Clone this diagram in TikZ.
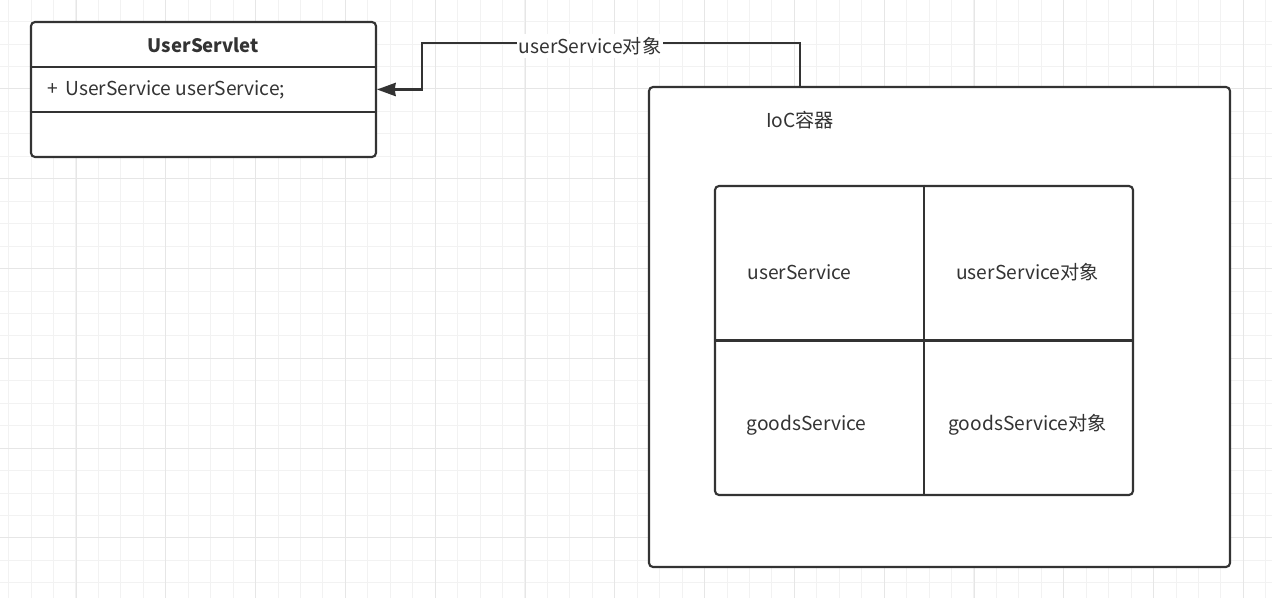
\documentclass[tikz,border=0pt]{standalone}
\usepackage{fontspec}
\setmainfont{Noto Sans CJK SC}
\usetikzlibrary{arrows.meta}
\definecolor{strk}{HTML}{333333}
\definecolor{txt}{HTML}{333333}
\definecolor{gridminor}{HTML}{F2F2F2}
\definecolor{gridmajor}{HTML}{E6E6E6}
\tikzset{
  x=0.75pt, y=-0.75pt,
  box/.style={draw=strk, line width=1.6pt, rounded corners=3pt, fill=white, inner sep=0pt},
  divider/.style={draw=strk, line width=1.6pt},
  txtnode/.style={text=txt, font=\fontsize{14.4pt}{16pt}\selectfont, inner sep=0pt},
  boldtxt/.style={txtnode, font=\fontsize{13.9pt}{16pt}\selectfont\bfseries},
  conn/.style={draw=strk, line width=1.6pt, -{Stealth[length=14pt, width=10pt, inset=0.8pt]}},
  lbl/.style={txtnode, fill=white, inner xsep=1pt, inner ysep=2pt},
}
\begin{document}
\begin{tikzpicture}
\useasboundingbox (0,0) rectangle (1272,598);
\fill[white] (0,0) rectangle (1272,598);
% grid
\foreach \k in {0,...,56} \draw[gridminor, line width=0.75pt] ({8.6+22.45*\k},0) -- ({8.6+22.45*\k},598);
\foreach \k in {1,...,26} \draw[gridminor, line width=0.75pt] (0,{-0.8+22.45*\k}) -- (1272,{-0.8+22.45*\k});
\foreach \k in {0,...,13} \draw[gridmajor, line width=0.75pt] ({76+89.8*\k},0) -- ({76+89.8*\k},598);
\foreach \k in {0,...,5} \draw[gridmajor, line width=0.75pt] (0,{89+89.8*\k}) -- (1272,{89+89.8*\k});

% UserServlet class
\node[box, minimum width={345*0.75pt}, minimum height={135*0.75pt}] (servlet) at (203.5,89.5) {};
\draw[divider] ([yshift={-22.5*0.75pt}]servlet.west) -- ([yshift={-22.5*0.75pt}]servlet.east);
\draw[divider] ([yshift={22.5*0.75pt}]servlet.west) -- ([yshift={22.5*0.75pt}]servlet.east);
\node[boldtxt] (title) at (203.5,45) {UserServlet};
\node[txtnode, anchor=west] (attr) at (47,90) {+ \,UserService userService;};

% IoC container
\node[box, minimum width={581*0.75pt}, minimum height={480*0.75pt}] (ioc) at (939.5,327) {};
\node[txtnode] (ioclabel) at (800,120) {IoC容器};

% table
\node[box, minimum width={418*0.75pt}, minimum height={309*0.75pt}] (table) at (924,340.5) {};
\draw[divider] (table.north) -- (table.south);
\draw[divider] (table.west) -- (table.east);
\node[txtnode] (c11) at (799.5,272) {userService};
\node[txtnode] (c12) at (1027.5,272) {userService对象};
\node[txtnode] (c21) at (806.5,425) {goodsService};
\node[txtnode] (c22) at (1027.5,425) {goodsService对象};

% connector
\coordinate (src) at ([xshift={-139.5*0.75pt}]ioc.north);
\coordinate (bend) at ([xshift={45*0.75pt}]servlet.east);
\draw[conn] (src) -- ++(0,-43) -| (bend) -- (servlet.east);
\node[lbl] (edgelabel) at (590,46) {userService对象};
\end{tikzpicture}
\end{document}
